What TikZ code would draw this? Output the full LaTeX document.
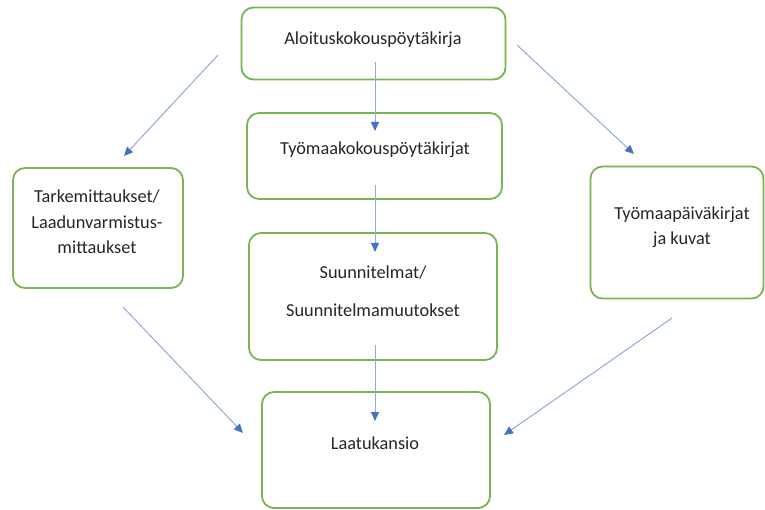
\documentclass[tikz,border=0pt]{standalone}
\usepackage{fontspec}
\setmainfont{Carlito}
\usetikzlibrary{arrows.meta}
\definecolor{boxgreen}{HTML}{77B552}
\definecolor{linkblue}{HTML}{8EA9DB}
\definecolor{tipblue}{HTML}{4472C4}
\tikzset{
  box/.style={draw=boxgreen, line width=1.8pt, rounded corners=12pt, fill=white, inner sep=0pt},
  lbl/.style={font=\fontsize{18.3}{25}\selectfont, text=black!85, align=center},
  link/.style={draw=linkblue, line width=1pt, -{Triangle[length=9pt,width=8pt,fill=tipblue,color=tipblue]}}
}
\begin{document}
\begin{tikzpicture}[x=1pt,y=-1pt]
\useasboundingbox (0,0) rectangle (765,510);
% boxes
\node[box, minimum width=264, minimum height=72] (aloitus) at (373.5,43.5) {};
\node[box, minimum width=255, minimum height=86] (tyomaa) at (374.5,156) {};
\node[box, minimum width=170, minimum height=120] (tarke) at (98,228) {};
\node[box, minimum width=173, minimum height=132] (paiva) at (677,232.5) {};
\node[box, minimum width=248, minimum height=127] (suunn) at (373,296.5) {};
\node[box, minimum width=228, minimum height=116] (laatu) at (376,450) {};
% texts
\node[lbl] (t1) at (373,40) {Aloituskokouspöytäkirja};
\node[lbl] (t2) at (375,150) {Työmaakokouspöytäkirjat};
\node[lbl, font=\fontsize{18.3}{25.5}\selectfont] (t3) at (97,222) {Tarkemittaukset/\\Laadunvarmistus-\\mittaukset};
\node[lbl] (t4) at (682,227.5) {Työmaapäiväkirjat\\ja kuvat};
\node[lbl, font=\fontsize{18.3}{38}\selectfont] (t5) at (373,291) {Suunnitelmat/\\Suunnitelmamuutokset};
\node[lbl] (t6) at (375,443) {Laatukansio};
% connector end points
\coordinate (a1) at (375,62);   \coordinate (a2) at (375,131);
\coordinate (b1) at (375,185);  \coordinate (b2) at (375,252);
\coordinate (c1) at (375,345);  \coordinate (c2) at (375,421);
\coordinate (d1) at (218,55);   \coordinate (d2) at (124,156);
\coordinate (e1) at (517,45);   \coordinate (e2) at (634,154);
\coordinate (f1) at (123,307);  \coordinate (f2) at (243,433);
\coordinate (g1) at (672,318);  \coordinate (g2) at (504,435);
\draw[link] (a1) -- (a2);
\draw[link] (b1) -- (b2);
\draw[link] (c1) -- (c2);
\draw[link] (d1) -- (d2);
\draw[link] (e1) -- (e2);
\draw[link] (f1) -- (f2);
\draw[link] (g1) -- (g2);
\end{tikzpicture}
\end{document}
